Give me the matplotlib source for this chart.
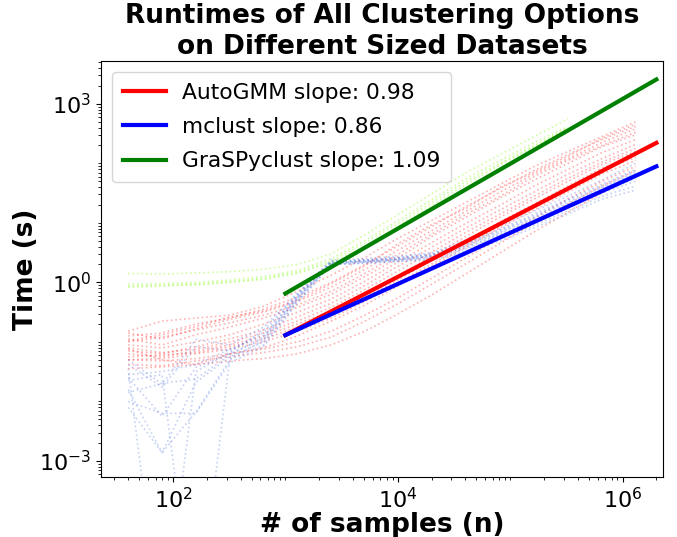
import numpy as np
import matplotlib
matplotlib.use("Agg")
import matplotlib.pyplot as plt
from matplotlib.ticker import FixedLocator, LogLocator, NullFormatter

# sample sizes used in the sweep (40 * 2^k)
n_samples = [40, 80, 160, 320, 640, 1280, 2560, 5120, 10240, 20480,
             40960, 81920, 163840, 327680, 655360, 1310720]

# log10 runtimes (s), one row per run
autogmm_log = [
    [-0.82, -0.65, -0.60, -0.55, -0.40, -0.15, 0.12, 0.42, 0.75, 1.05, 1.35, 1.65, 1.95, 2.20, 2.45, 2.70],
    [-0.90, -0.85, -0.70, -0.60, -0.45, -0.25, 0.00, 0.30, 0.62, 0.95, 1.28, 1.58, 1.88, 2.15, 2.40, 2.62],
    [-0.85, -0.95, -0.78, -0.62, -0.50, -0.32, -0.08, 0.22, 0.55, 0.88, 1.20, 1.52, 1.82, 2.08, 2.35, 2.58],
    [-1.00, -0.92, -0.80, -0.68, -0.55, -0.38, -0.15, 0.15, 0.48, 0.82, 1.15, 1.45, 1.78, 2.05, 2.30, 2.52],
    [-0.95, -1.05, -0.88, -0.75, -0.60, -0.42, -0.20, 0.10, 0.42, 0.78, 1.10, 1.42, 1.72, 2.00, 2.28, 2.48],
    [-1.05, -1.10, -1.00, -0.88, -0.70, -0.50, -0.28, 0.02, 0.35, 0.68, 1.00, 1.30, 1.62, 1.90, 2.18, 2.40],
    [-1.15, -1.20, -1.08, -0.95, -0.80, -0.58, -0.35, -0.05, 0.28, 0.60, 0.92, 1.22, 1.52, 1.82, 2.08, 2.32],
    [-1.10, -1.18, -1.12, -1.00, -0.85, -0.65, -0.42, -0.12, 0.20, 0.52, 0.85, 1.15, 1.45, 1.75, 2.02, 2.25],
    [-1.20, -1.25, -1.15, -1.05, -0.90, -0.70, -0.48, -0.18, 0.12, 0.45, 0.78, 1.10, 1.40, 1.70, 1.98, 2.20],
    [-1.25, -1.22, -1.18, -1.08, -0.95, -0.75, -0.52, -0.25, 0.05, 0.38, 0.70, 1.02, 1.32, 1.62, 1.92, 2.15],
    [-1.30, -1.28, -1.20, -1.12, -1.00, -0.82, -0.60, -0.32, 0.00, 0.32, 0.64, 0.96, 1.28, 1.58, 1.88, 2.10],
    [-1.12, -1.30, -1.38, -1.20, -1.10, -0.90, -0.65, -0.38, -0.05, 0.28, 0.60, 0.92, 1.22, 1.52, 1.82, 2.05],
    [-1.30, -1.32, -1.28, -1.20, -1.12, -1.00, -0.82, -0.55, -0.25, 0.08, 0.42, 0.75, 1.08, 1.40, 1.70, 1.95],
    [-1.38, -1.40, -1.32, -1.25, -1.18, -1.08, -0.92, -0.65, -0.35, -0.02, 0.32, 0.66, 1.00, 1.32, 1.62, 1.88],
    [-1.45, -1.42, -1.38, -1.32, -1.28, -1.20, -1.05, -0.82, -0.52, -0.20, 0.15, 0.50, 0.85, 1.18, 1.50, 1.80],
    [-0.98, -0.88, -0.74, -0.58, -0.48, -0.30, -0.02, 0.28, 0.66, 0.98, 1.25, 1.60, 1.85, 2.12, 2.42, 2.66],
]

mclust_log = [
    [-1.30, -1.71, -0.96, -1.05, -0.75, -0.18, 0.38, 0.40, 0.44, 0.50, 0.72, 0.95, 1.20, 1.45, 1.72, 2.00],
    [-1.38, -1.76, -1.08, -1.15, -0.85, -0.22, 0.36, 0.38, 0.42, 0.48, 0.68, 0.90, 1.15, 1.40, 1.65, 1.90],
    [-1.55, -1.50, -1.38, -1.12, -0.90, -0.25, 0.34, 0.37, 0.40, 0.46, 0.64, 0.86, 1.10, 1.35, 1.60, 1.85],
    [-1.60, -2.25, -1.43, -1.20, -0.95, -0.28, 0.33, 0.36, 0.39, 0.44, 0.60, 0.82, 1.05, 1.30, 1.55, 1.78],
    [-1.80, -2.86, -1.68, -1.25, -1.00, -0.30, 0.32, 0.35, 0.38, 0.42, 0.56, 0.78, 1.00, 1.25, 1.50, 1.70],
    [-2.10, -2.86, -2.18, -1.30, -1.05, -0.32, 0.30, 0.33, 0.36, 0.40, 0.52, 0.74, 0.96, 1.20, 1.45, 1.62],
    [-1.45, -6.00, -1.50, -1.18, -0.80, -0.20, 0.35, 0.37, 0.41, 0.47, 0.66, 0.88, 1.12, 1.38, 1.62, 1.88],
    [-1.65, -1.55, -6.00, -1.28, -0.98, -0.26, 0.31, 0.34, 0.37, 0.43, 0.58, 0.80, 1.02, 1.28, 1.52, 1.75],
    [-1.85, -1.70, -1.62, -1.22, -0.92, -0.24, 0.33, 0.35, 0.39, 0.45, 0.62, 0.84, 1.08, 1.32, 1.58, 1.82],
    [-2.00, -2.20, -2.20, -1.35, -1.08, -0.35, 0.30, 0.32, 0.35, 0.38, 0.50, 0.70, 0.92, 1.15, 1.40, 1.55],
]

graspy_n = n_samples[:14]
graspy_log = [
    [0.15, 0.14, 0.16, 0.18, 0.22, 0.30, 0.48, 0.80, 1.15, 1.50, 1.85, 2.15, 2.45, 2.75],
    [-0.03, -0.02, 0.00, 0.04, 0.10, 0.20, 0.40, 0.70, 1.05, 1.40, 1.75, 2.05, 2.35, 2.62],
    [-0.06, -0.05, -0.03, 0.01, 0.07, 0.17, 0.36, 0.66, 1.00, 1.35, 1.70, 2.00, 2.30, 2.60],
    [-0.08, -0.06, -0.04, 0.00, 0.05, 0.15, 0.33, 0.60, 0.95, 1.30, 1.65, 1.98, 2.28, 2.58],
]

# fitted power-law lines (endpoints)
fit_n = [1e3, 2e6]
autogmm_fit = [0.13, 221]
mclust_fit = [0.13, 89]
graspy_fit = [0.65, 2570]
slopes = {"AutoGMM": 0.98, "mclust": 0.86, "GraSPyclust": 1.09}

fig = plt.figure(figsize=(6.77, 5.37), dpi=100)
ax = fig.add_axes([101 / 677, 1 - 477 / 537, 562 / 677, 416 / 537])

for row in autogmm_log:
    ax.plot(n_samples, 10 ** np.array(row), ls=":", lw=1.2, color="red", alpha=0.3)
for row in mclust_log:
    ax.plot(n_samples, 10 ** np.array(row), ls=":", lw=1.2, color="royalblue", alpha=0.3)
for row in graspy_log:
    ax.plot(graspy_n, 10 ** np.array(row), ls=":", lw=1.2, color="lawngreen", alpha=0.35)

ax.plot(fit_n, autogmm_fit, color="red", lw=3,
        label="AutoGMM slope: %.2f" % slopes["AutoGMM"])
ax.plot(fit_n, mclust_fit, color="blue", lw=3,
        label="mclust slope: %.2f" % slopes["mclust"])
ax.plot(fit_n, graspy_fit, color="green", lw=3,
        label="GraSPyclust slope: %.2f" % slopes["GraSPyclust"])

ax.set_xscale("log")
ax.set_yscale("log")
ax.set_xlim(10 ** 1.36, 10 ** 6.36)
ax.set_ylim(10 ** -3.27, 10 ** 3.72)

ax.xaxis.set_major_locator(FixedLocator([1e2, 1e4, 1e6]))
ax.yaxis.set_major_locator(FixedLocator([1e-3, 1e0, 1e3]))
ax.xaxis.set_minor_locator(LogLocator(base=10, subs=np.arange(1, 10), numticks=50))
ax.yaxis.set_minor_locator(LogLocator(base=10, subs=np.arange(1, 10), numticks=50))
ax.xaxis.set_minor_formatter(NullFormatter())
ax.yaxis.set_minor_formatter(NullFormatter())
ax.tick_params(which="major", labelsize=16)

ax.set_title("Runtimes of All Clustering Options\non Different Sized Datasets",
             fontsize=19, fontweight="bold", pad=5, linespacing=1.25)
ax.set_xlabel("# of samples (n)", fontsize=19, fontweight="bold", labelpad=0)
ax.set_ylabel("Time (s)", fontsize=19, fontweight="bold", labelpad=0)
ax.legend(loc="upper left", fontsize=15.7, handlelength=2.0, handletextpad=0.7,
          labelspacing=0.65, borderpad=0.5)

fig.savefig("out.png", dpi=100)
